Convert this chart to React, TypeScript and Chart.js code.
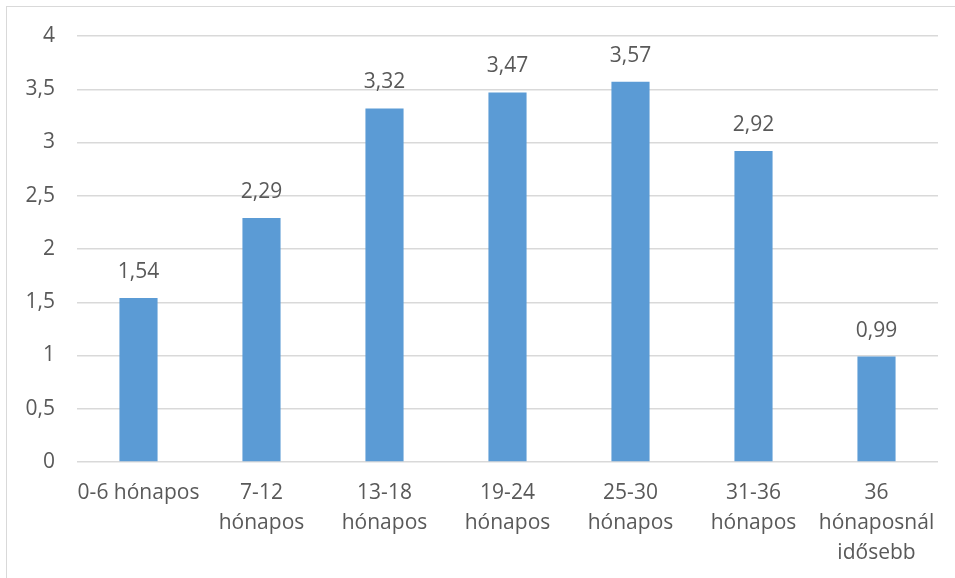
import React, { useEffect, useRef } from "react";
import { Chart, registerables } from "chart.js";

Chart.register(...registerables);

const categories: string[][] = [
  ["0-6 hónapos"],
  ["7-12", "hónapos"],
  ["13-18", "hónapos"],
  ["19-24", "hónapos"],
  ["25-30", "hónapos"],
  ["31-36", "hónapos"],
  ["36", "hónaposnál", "idősebb"],
];
const values: number[] = [1.54, 2.29, 3.32, 3.47, 3.57, 2.92, 0.99];
const yTicks: number[] = [0, 0.5, 1, 1.5, 2, 2.5, 3, 3.5, 4];

const FONT = "'Open Sans', sans-serif";
const TEXT = "#595959";
const SIZE = 21;

const fmt = (v: number) => String(v).replace(".", ",");

const labelPlugin = {
  id: "barLabels",
  afterDatasetsDraw(chart: any) {
    const ctx = chart.ctx;
    const meta = chart.getDatasetMeta(0);
    ctx.save();
    ctx.font = `${SIZE}px ${FONT}`;
    ctx.fillStyle = TEXT;
    ctx.textAlign = "center";
    ctx.textBaseline = "middle";
    meta.data.forEach((bar: any, i: number) => {
      ctx.fillText(fmt(values[i]), bar.x, bar.y - 26);
    });
    ctx.restore();
  },
};

export default function App() {
  const ref = useRef<HTMLCanvasElement>(null);
  useEffect(() => {
    document.body.style.margin = "0";
    const chart = new Chart(ref.current!, {
      type: "bar",
      data: {
        labels: categories,
        datasets: [
          {
            data: values,
            backgroundColor: "#5b9bd5",
            borderWidth: 0,
            categoryPercentage: 1,
            barPercentage: 0.31,
          },
        ],
      },
      options: {
        animation: false,
        responsive: false,
        events: [],
        layout: { padding: { top: 36, right: 17, left: 0, bottom: 0 } },
        plugins: { legend: { display: false }, tooltip: { enabled: false } },
        scales: {
          x: {
            grid: { display: false, drawTicks: false },
            border: { display: false },
            ticks: {
              color: TEXT,
              font: { family: FONT, size: SIZE, lineHeight: 30 / SIZE },
              padding: 16,
              maxRotation: 0,
              autoSkip: false,
            },
            afterFit: (s: any) => {
              s.height = 578 - 462;
            },
          },
          y: {
            min: 0,
            max: 4,
            afterBuildTicks: (s: any) => {
              s.ticks = yTicks.map((v) => ({ value: v }));
            },
            grid: { color: "#d9d9d9", lineWidth: 1.5, drawTicks: false },
            border: { display: false },
            ticks: {
              color: TEXT,
              font: { family: FONT, size: SIZE },
              padding: 22,
              callback: (v: any) => fmt(Number(v)),
            },
            afterFit: (s: any) => {
              s.width = 77;
            },
          },
        },
      },
      plugins: [labelPlugin],
    });
    return () => chart.destroy();
  }, []);
  return (
    <div style={{ position: "relative", width: 955, height: 578, overflow: "hidden", background: "#fff" }}>
      <div
        style={{
          position: "absolute",
          left: 6,
          top: 6,
          width: 1000,
          height: 1000,
          border: "1.5px solid #d9d9d9",
        }}
      />
      <canvas ref={ref} width={955} height={578} style={{ position: "absolute", left: 0, top: 0 }} />
    </div>
  );
}
